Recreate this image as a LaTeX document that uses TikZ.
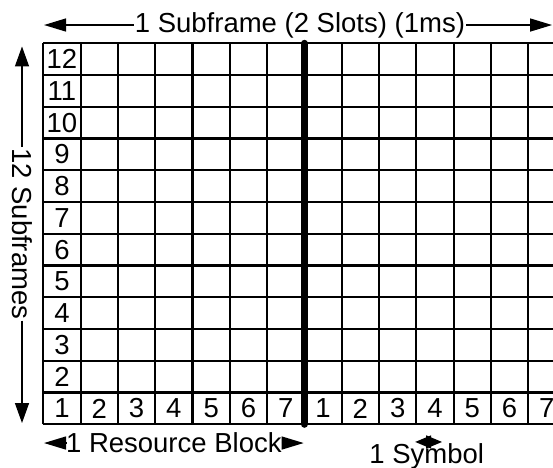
\documentclass[tikz,border=0pt]{standalone}
\usepackage{fontspec}
\setmainfont{Liberation Sans}
\usetikzlibrary{arrows.meta}

\begin{document}
\begin{tikzpicture}[x=37.3pt,y=31.75pt,font=\fontsize{27.5}{31}\selectfont,
    cellline/.style={line width=2.2pt},
    slotline/.style={line width=7pt,line cap=round},
    htip/.style={-{Triangle[length=22pt,width=13pt]},line width=1.4pt},
    vtip/.style={-{Triangle[length=20pt,width=14pt]},line width=1.4pt},
    stip/.style={{Triangle[length=16pt,width=13pt]}-{Triangle[length=16pt,width=13pt]},line width=1.4pt},
    lbl/.style={fill=white,inner sep=1pt}]
  \coordinate (bl) at (-1.161,-1.376);
  \coordinate (tr) at (13.665,13.364);
  \useasboundingbox (bl) rectangle (tr);
  \clip (bl) rectangle (tr);
  % resource grid
  \foreach \c in {0,...,14} \draw[cellline] (\c,0) -- (\c,12);
  \foreach \r in {0,...,12} \draw[cellline] (0,\r) -- (14,\r);
  \draw[slotline] (7,0) -- (7,12);
  % subcarrier and symbol numbers
  \foreach \r in {2,...,12} \node (row\r) at (0.5,\r-0.5) {\r};
  \foreach \c in {1,...,7} {
    \node (sla\c) at (\c-0.5,0.5) {\c};
    \node (slb\c) at (\c+6.5,0.5) {\c};
  }
  % subframe arrow
  \node[lbl] (subfr) at (6.88,12.576) {1 Subframe (2 Slots) (1ms)};
  \coordinate (subL) at (0.02,12.576);
  \coordinate (subR) at (13.64,12.576);
  \draw[htip] (subfr.west) -- (subL);
  \draw[htip] (subfr.east) -- (subR);
  % 12 subframes arrow
  \node[lbl,rotate=-90] (twelve) at (-0.571,6) {12 Subframes};
  \coordinate (twT) at (-0.571,11.9);
  \coordinate (twB) at (-0.571,0.04);
  \draw[vtip] (twelve.west) -- (twT);
  \draw[vtip] (twelve.east) -- (twB);
  % resource block arrow
  \node[inner sep=0pt] (rblock) at (3.5,-0.59) {1 Resource Block};
  \coordinate (rbL) at (0.02,-0.59);
  \coordinate (rbR) at (6.98,-0.59);
  \draw[htip] (rblock.west) -- (rbL);
  \draw[htip] (rblock.east) -- (rbR);
  % symbol arrow
  \node[anchor=base] (symb) at (10.28,-1.22) {1 Symbol};
  \coordinate (symL) at (9.97,-0.556);
  \coordinate (symR) at (10.69,-0.556);
  \draw[stip] (symL) -- (symR);
\end{tikzpicture}
\end{document}
